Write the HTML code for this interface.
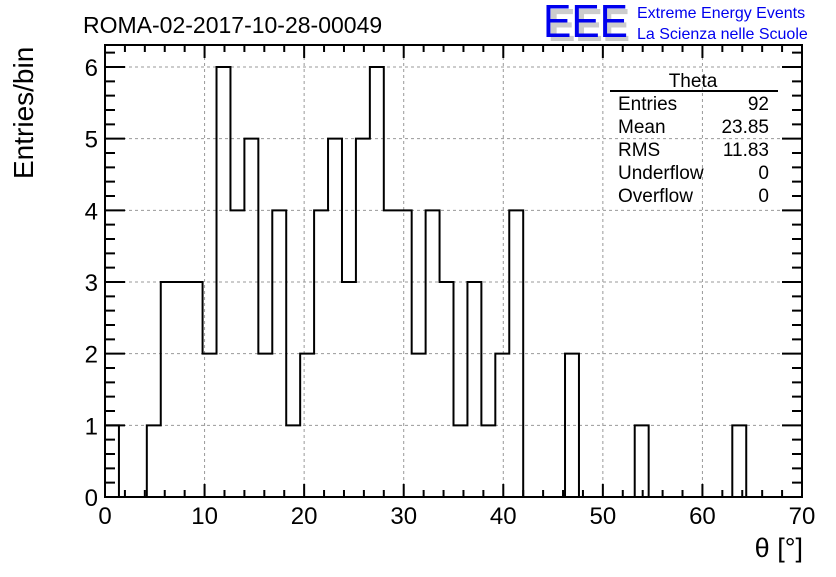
<!DOCTYPE html>
<html><head><meta charset="utf-8"><style>
body{margin:0;background:#fff;width:836px;height:572px;overflow:hidden}
svg text{font-family:"Liberation Sans",sans-serif}
</style></head><body>
<svg width="836" height="572">
<g id="grid"></g>
<g id="ticks"></g>
<path id="hist" fill="none" stroke="#000" stroke-width="2"/>
<rect x="105" y="45" width="697" height="452" fill="none" stroke="#000" stroke-width="2"/>
<g id="labels" font-size="24"></g>
<text x="83" y="33" font-size="23">ROMA-02-2017-10-28-00049</text>
<text x="803" y="557" font-size="27" text-anchor="end">θ [°]</text>
<text transform="translate(33,179) rotate(-90)" font-size="28">Entries/bin</text>
<g>
<text x="548" y="41" font-size="46" fill="#ccc" font-weight="bold" textLength="82" lengthAdjust="spacingAndGlyphs">EEE</text>
<text x="543" y="37" font-size="46" fill="#0000ee" textLength="85" lengthAdjust="spacingAndGlyphs">EEE</text>
<text x="637" y="18" font-size="16" fill="#0000ee">Extreme Energy Events</text>
<text x="637" y="39" font-size="16" fill="#0000ee">La Scienza nelle Scuole</text>
</g>
<g font-size="19">
<text x="693" y="87" text-anchor="middle">Theta</text>
<line x1="610" y1="91" x2="778" y2="91" stroke="#000" stroke-width="2"/>
<text x="618" y="110">Entries</text><text x="769" y="110" text-anchor="end">92</text>
<text x="618" y="133">Mean</text><text x="769" y="133" text-anchor="end">23.85</text>
<text x="618" y="156">RMS</text><text x="769" y="156" text-anchor="end">11.83</text>
<text x="618" y="179">Underflow</text><text x="769" y="179" text-anchor="end">0</text>
<text x="618" y="202">Overflow</text><text x="769" y="202" text-anchor="end">0</text>
</g>
</svg>
<script>
const counts=[1,0,0,1,3,3,3,2,6,4,5,2,4,1,2,4,5,3,5,6,4,4,2,4,3,1,3,1,2,4,0,0,0,2,0,0,0,0,1,0,0,0,0,0,0,1,0,0,0,0];
const binWidth=1.4;
const xTicks=[0,10,20,30,40,50,60,70];
const yTicks=[0,1,2,3,4,5,6];
const X=v=>105+v*(697/70), Y=v=>497-v*71.67;
const NS="http://www.w3.org/2000/svg";
function mk(t,a,p){const e=document.createElementNS(NS,t);for(const k in a)e.setAttribute(k,a[k]);p.appendChild(e);return e;}
const grid=document.getElementById('grid'),ticks=document.getElementById('ticks'),labels=document.getElementById('labels');
xTicks.forEach(v=>{
 if(v>0&&v<70){const l=mk('line',{x1:X(v),x2:X(v),y1:45,y2:497,stroke:'#999','stroke-dasharray':'3,3'},grid);
 
 }
 const t=mk('text',{x:X(v),y:524,'text-anchor':'middle'},labels);t.textContent=v;
 
 
});
yTicks.forEach(v=>{
 if(v>0){const l=mk('line',{x1:105,x2:802,y1:Y(v),y2:Y(v),stroke:'#999','stroke-dasharray':'3,3'},grid);
 
 }
 const t=mk('text',{x:98,y:Y(v)+9,'text-anchor':'end'},labels);t.textContent=v;
 
 
});
let d='';
for(let v=0;v<=70;v+=2){const L=v%10===0?13:7;
 d+=`M${X(v)},497v${-L}M${X(v)},45v${L}`;}
for(let i=0;i<=31;i++){const v=i*0.2;if(v>6.31)break;const L=i%5===0?20:10;
 d+=`M105,${Y(v)}h${L}M802,${Y(v)}h${-L}`;}
mk('path',{d:d,stroke:'#000','stroke-width':2,fill:'none'},ticks);
let h='';
counts.forEach((c,i)=>{const x0=X(i*binWidth),x1=X((i+1)*binWidth);
 if(i===0)h+=`M${x0},${Y(c)}`;else h+=`L${x0},${Y(c)}`;
 h+=`L${x1},${Y(c)}`;});
document.getElementById('hist').setAttribute('d',h);
</script>
</body></html>
